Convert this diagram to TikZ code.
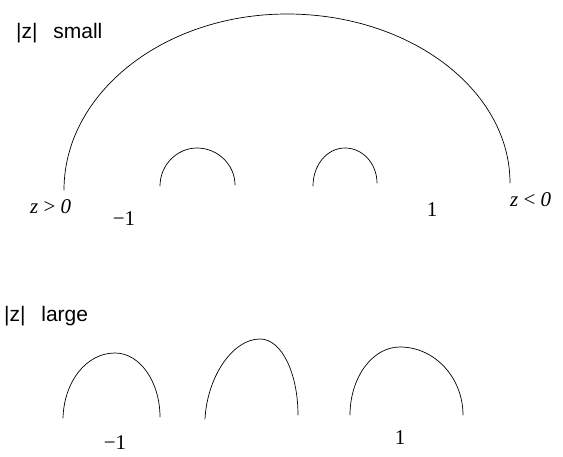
\documentclass[tikz,border=0pt]{standalone}
\usepackage{fontspec}
\setmainfont{Liberation Serif}
\newfontfamily\etiqfont{Liberation Sans}
\usetikzlibrary{positioning}

\begin{document}
\begin{tikzpicture}[
  x=1pt, y=1pt,
  curva/.style={line width=0.7pt, line cap=round},
  %% rotulos de regimen (sans)
  regimen/.style={
    font=\etiqfont\fontsize{21}{24}\selectfont,
    inner sep=0pt, anchor=west
  },
  %% rotulos de puntos (serif)
  punto/.style={
    font=\fontsize{21}{24}\selectfont,
    inner sep=0pt
  }
]
\useasboundingbox (0,0) rectangle (563,456);

%% ── |z| pequeño ─────────────────────────────────────────────────────────────
\node[regimen] (tpeq) at (16, 423) {|z|\hspace{0.75em}small};

\coordinate (gizq) at (64, 266);
\coordinate (gtop) at (287, 442);
\coordinate (gder) at (510, 273);
\draw[curva] (gizq) .. controls (64, 363) and (164, 442) .. (gtop)
                    .. controls (410, 442) and (510, 366) .. (gder);

\coordinate (p1a) at (160, 270);
\coordinate (p1t) at (197, 308);
\coordinate (p1b) at (235, 271);
\draw[curva] (p1a) .. controls (160, 291) and (177, 308) .. (p1t)
                   .. controls (218, 308) and (235, 291) .. (p1b);

\coordinate (p2a) at (313, 270);
\coordinate (p2t) at (345, 308);
\coordinate (p2b) at (377, 273);
\draw[curva] (p2a) .. controls (313, 291) and (327, 308) .. (p2t)
                   .. controls (363, 308) and (377, 292) .. (p2b);

\node[punto, anchor=west] (zpos) at (30, 249) {\textit{z} > \textit{0}};
\node[punto] (m1s) at (124, 237) {−1};
\node[punto] (u1s) at (432, 246) {1};
\node[punto, anchor=west] (zneg) at (510, 256) {\textit{z} < \textit{0}};

%% ── |z| grande ──────────────────────────────────────────────────────────────
\node[regimen] (tgra) at (4, 140) {|z|\hspace{0.75em}large};

\coordinate (q1a) at (63, 38);
\coordinate (q1t) at (115, 103);
\coordinate (q1b) at (160, 39);
\draw[curva] (q1a) .. controls (64, 74) and (86, 103) .. (q1t)
                   .. controls (140, 103) and (160, 74) .. (q1b);

\coordinate (q2a) at (205, 37);
\coordinate (q2t) at (260, 117);
\coordinate (q2b) at (298, 41);
\draw[curva] (q2a) .. controls (207, 78) and (232, 117) .. (q2t)
                   .. controls (282, 117) and (298, 82) .. (q2b);

\coordinate (q3a) at (350, 41);
\coordinate (q3t) at (400, 109);
\coordinate (q3b) at (463, 41);
\draw[curva] (q3a) .. controls (350, 78) and (372, 109) .. (q3t)
                   .. controls (435, 109) and (463, 78) .. (q3b);

\node[punto] (m1g) at (115, 13) {−1};
\node[punto] (u1g) at (400, 18) {1};

\end{tikzpicture}
\end{document}
